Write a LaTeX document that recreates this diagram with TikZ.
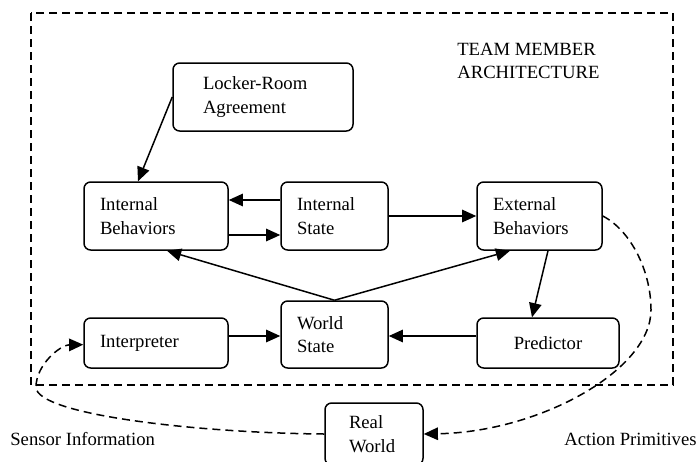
\documentclass[tikz,border=0pt]{standalone}
\usepackage{fontspec}
\setmainfont{Liberation Serif}
\usetikzlibrary{calc, arrows.meta}

\tikzset{
  block/.style = {draw, line width=0.9pt, rounded corners=4pt, align=left,
                  inner xsep=9.6pt, inner ysep=2pt},
  flow/.style  = {line width=0.9pt, -{Triangle[length=8.5pt,width=7.5pt]}},
  loose/.style = {line width=0.9pt, dash pattern=on 4.8pt off 3pt,
                  -{Triangle[length=8.5pt,width=7.5pt]}},
  caption/.style = {inner sep=0pt, align=left, anchor=west}
}

\begin{document}
\begin{tikzpicture}[x=0.6pt, y=-0.6pt, font=\fontsize{11.2}{14.2}\selectfont]

\useasboundingbox (0,0) rectangle (696,461);

% team member frame
\draw [line width=0.9pt, dash pattern=on 4.8pt off 3pt] (31,13) rectangle (673,385);
\node [caption] (title) at (457,61) {TEAM MEMBER\\ARCHITECTURE};

\node [block, text width=72pt, inner xsep=18pt, minimum height=40.8pt] (lra) at (263,97) {Locker-Room\\Agreement};

\node [block, text width=67.2pt, minimum height=40.8pt] (ib) at (156,216) {Internal\\Behaviors};
\node [block, text width=45pt, minimum height=40.8pt] (is) at (334.5,216) {Internal\\State};
\node [block, text width=55.8pt, minimum height=40.8pt] (eb) at (539.5,216) {External\\Behaviors};

\node [block, text width=67.2pt, minimum height=30pt] (interp) at (156,343) {Interpreter};
\node [block, text width=45pt, minimum height=40.2pt] (ws) at (334.5,334.5) {World\\State};
\node [block, text width=66pt, minimum height=30pt, align=center] (pred) at (548,343) {Predictor};

\node [block, text width=30pt, inner xsep=14.4pt, minimum height=37.2pt] (rw) at (374,434) {Real\\World};

\node [caption] (sensor) at (10,439) {Sensor Information};
\node [caption] (action) at (564,439) {Action Primitives};

\draw [flow] (lra.west) -- ([xshift=-10.8pt]ib.north);
\draw [flow] ([yshift=9.6pt]is.west) -- ([yshift=9.6pt]ib.east);
\draw [flow] ([yshift=-11.4pt]ib.east) -- ([yshift=-11.4pt]is.west);
\draw [flow] (is.east) -- (eb.west);
\draw [flow] (ws.north) -- ([xshift=6.6pt]ib.south);
\draw [flow] (ws.north) -- ([xshift=-17.7pt]eb.south);
\draw [flow] ([xshift=5.1pt]eb.south) -- ([xshift=-9.6pt]pred.north);
\draw [flow] ([yshift=4.2pt]interp.east) -- ([yshift=4.2pt]interp.east -| ws.west);
\draw [flow] ([yshift=4.2pt]pred.west) -- ([yshift=4.2pt]pred.west -| ws.east);

% action and sensor loops
\coordinate (bend1) at (651,310);
\coordinate (bend2) at (36,387);
\draw [loose] (eb.east) .. controls (630,230) and (651,270) .. (bend1)
              .. controls (651,370) and (540,432) .. (rw.east);
\draw [loose] (rw.west) .. controls (200,433) and (36,415) .. (bend2)
              .. controls (36,365) and (60,345) .. ([yshift=-1pt]interp.west);

\end{tikzpicture}
\end{document}
